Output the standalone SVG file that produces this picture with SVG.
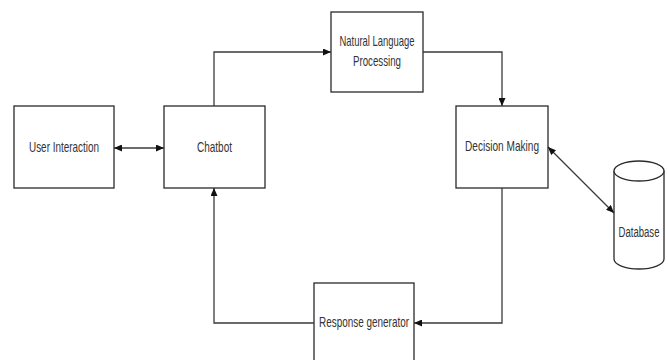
<svg xmlns="http://www.w3.org/2000/svg" width="668" height="360" viewBox="0 0 668 360">
<style>
.box{fill:#fff;stroke:#2a2a2a;stroke-width:1.3}
.lbl{font-family:"Liberation Sans",Arial,sans-serif;font-size:14.5px;fill:#333;text-anchor:middle}
.edge{fill:none;stroke:#3a3a3a;stroke-width:1.3}
</style>
<defs>
<marker id="ah" viewBox="0 0 8 7" refX="8" refY="3.5" markerWidth="8" markerHeight="7" markerUnits="userSpaceOnUse" orient="auto-start-reverse">
<path d="M0,0 L8,3.5 L0,7 z" fill="#111"/>
</marker>
</defs>
<g id="user-interaction">
<rect class="box" x="14" y="106" width="100" height="82"/>
<text class="lbl" x="64" y="152" textLength="70" lengthAdjust="spacingAndGlyphs">User Interaction</text>
</g>
<g id="chatbot">
<rect class="box" x="164" y="106" width="101" height="82"/>
<text class="lbl" x="214.5" y="152" textLength="35" lengthAdjust="spacingAndGlyphs">Chatbot</text>
</g>
<g id="nlp">
<rect class="box" x="331" y="12" width="92" height="80"/>
<text class="lbl" x="377" y="46" textLength="75" lengthAdjust="spacingAndGlyphs">Natural Language</text>
<text class="lbl" x="377" y="66" textLength="48" lengthAdjust="spacingAndGlyphs">Processing</text>
</g>
<g id="decision-making">
<rect class="box" x="456" y="106" width="92" height="82"/>
<text class="lbl" x="502" y="151" textLength="74" lengthAdjust="spacingAndGlyphs">Decision Making</text>
</g>
<g id="response-generator">
<rect class="box" x="314" y="283" width="100" height="82"/>
<text class="lbl" x="364" y="327" textLength="90" lengthAdjust="spacingAndGlyphs">Response generator</text>
</g>
<g id="database">
<path class="box" d="M614,171 A25,10 0 0 1 664,171 V259 A25,10 0 0 1 614,259 Z"/>
<path class="box" fill="none" d="M614,171 A25,10 0 0 0 664,171"/>
<text class="lbl" transform="translate(639,237) scale(0.66,1)" x="0" y="0">Database</text>
</g>
<g id="connectors">
<path class="edge" d="M114,148 H164" marker-start="url(#ah)" marker-end="url(#ah)"/>
<path class="edge" d="M214,106 V52 H331" marker-end="url(#ah)"/>
<path class="edge" d="M423,52 H502 V106" marker-end="url(#ah)"/>
<path class="edge" d="M548,147 L614,213" marker-start="url(#ah)" marker-end="url(#ah)"/>
<path class="edge" d="M502,188 V323 H414" marker-end="url(#ah)"/>
<path class="edge" d="M314,323 H214 V188" marker-end="url(#ah)"/>
</g>
</svg>
